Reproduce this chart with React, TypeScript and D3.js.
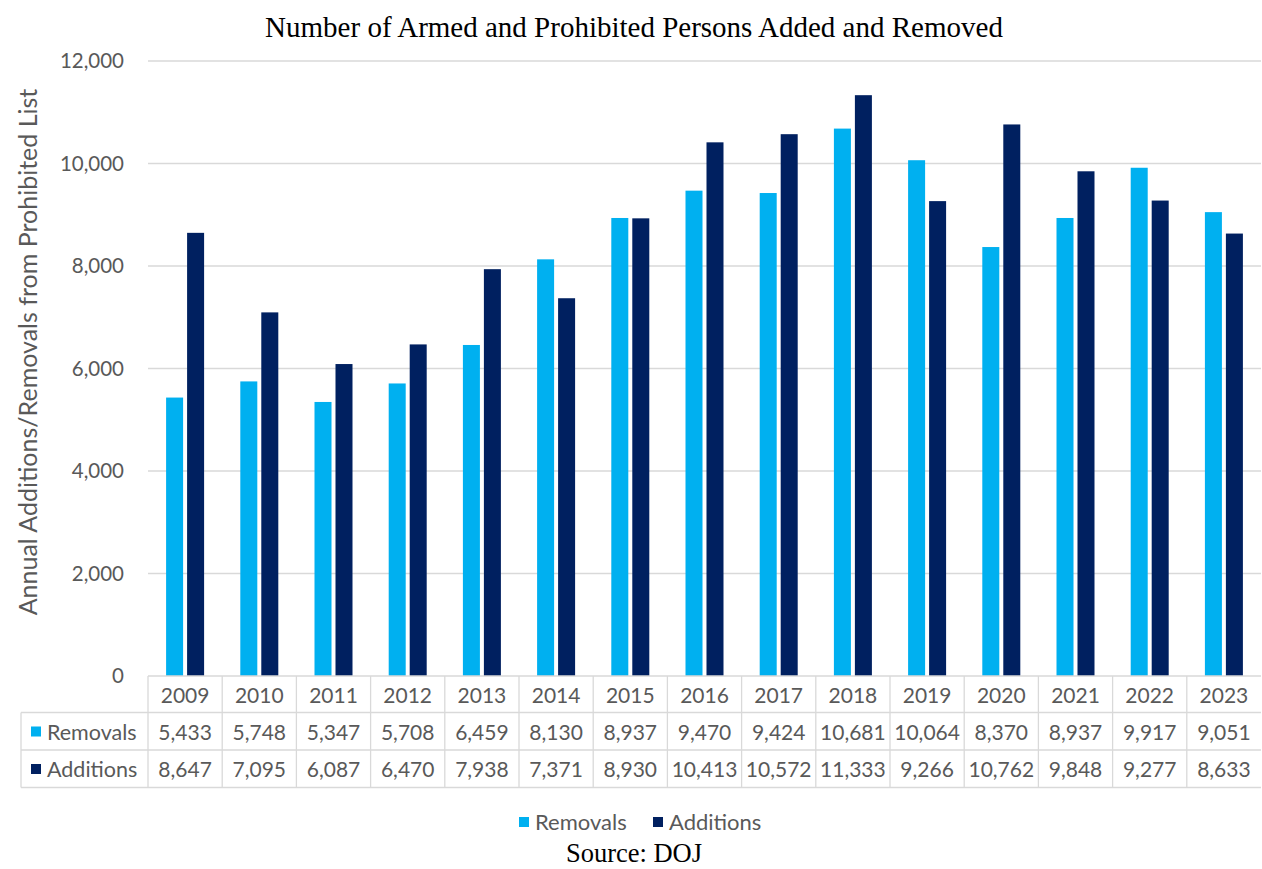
import React from "react";
import * as d3 from "d3";

const years = ["2009","2010","2011","2012","2013","2014","2015","2016","2017","2018","2019","2020","2021","2022","2023"];
const removals = [5433,5748,5347,5708,6459,8130,8937,9470,9424,10681,10064,8370,8937,9917,9051];
const additions = [8647,7095,6087,6470,7938,7371,8930,10413,10572,11333,9266,10762,9848,9277,8633];
const seriesNames = ["Removals","Additions"];
const seriesColors = ["#00B0F0","#002060"];
const yTicks = [0,2000,4000,6000,8000,10000,12000];

const W = 1262, H = 869;
const left = 148, right = 1261, top = 61, bottom = 676;
const tableLeft = 21;
const rowH = 37.5;
const textColor = "#595959";
const gridColor = "#d9d9d9";
const sans = "Lato, 'Open Sans', sans-serif";
const serif = "'Liberation Serif', 'Times New Roman', serif";

export default function App() {
  const x = d3.scaleBand<string>().domain(years).range([left, right]).paddingInner(0).paddingOuter(0);
  const y = d3.scaleLinear().domain([0, 12000]).range([bottom, top]);
  const step = x.bandwidth();
  const groupW = 38;
  const inner = d3.scaleBand<string>().domain(seriesNames).range([0, groupW]).paddingInner(0.19);
  const fmt = d3.format(",");
  const seriesValues = [removals, additions];
  const r1 = bottom + 36.5, r2 = r1 + rowH, r3 = r2 + rowH;

  return (
    <svg width={W} height={H} style={{ display: "block", position: "absolute", left: 0, top: 0 }}>
      <rect width={W} height={H} fill="#fff" />
      <text x={634} y={37} textAnchor="middle" fontFamily={serif} fontSize={29} fill="#000">
        Number of Armed and Prohibited Persons Added and Removed
      </text>
      {yTicks.map((t) => (
        <g key={t}>
          {t > 0 && <line x1={left} x2={right} y1={y(t)} y2={y(t)} stroke={gridColor} strokeWidth={1.3} />}
          <text x={124} y={y(t) + 7} textAnchor="end" fontFamily={sans} fontSize={20.5} fill={textColor}>
            {fmt(t)}
          </text>
        </g>
      ))}
      <text
        transform={`translate(37, 352) rotate(-90)`}
        textAnchor="middle"
        fontFamily={sans}
        fontSize={25}
        fill={textColor}
      >
        Annual Additions/Removals from Prohibited List
      </text>
      {years.map((yr, i) => {
        const gx = (x(yr) as number) + (step - groupW) / 2;
        return (
          <g key={yr}>
            {seriesNames.map((s, si) => {
              const v = seriesValues[si][i];
              return (
                <rect
                  key={s}
                  x={gx + (inner(s) as number)}
                  y={y(v)}
                  width={inner.bandwidth()}
                  height={bottom - y(v)}
                  fill={seriesColors[si]}
                />
              );
            })}
          </g>
        );
      })}
      {/* table */}
      <line x1={left} x2={right} y1={bottom} y2={bottom} stroke={gridColor} strokeWidth={1.3} />
      <line x1={tableLeft} x2={right} y1={r1} y2={r1} stroke={gridColor} strokeWidth={1.3} />
      <line x1={tableLeft} x2={right} y1={r2} y2={r2} stroke={gridColor} strokeWidth={1.3} />
      <line x1={tableLeft} x2={right} y1={r3} y2={r3} stroke={gridColor} strokeWidth={1.3} />
      <line x1={tableLeft} x2={tableLeft} y1={r1} y2={r3} stroke={gridColor} strokeWidth={1.3} />
      {years.map((yr) => (
        <line key={"v" + yr} x1={x(yr) as number} x2={x(yr) as number} y1={bottom} y2={r3} stroke={gridColor} strokeWidth={1.3} />
      ))}
      {years.map((yr, i) => {
        const cx = (x(yr) as number) + step / 2;
        return (
          <g key={"t" + yr} fontFamily={sans} fontSize={21} fill={textColor} textAnchor="middle">
            <text x={cx} y={bottom + 27}>{yr}</text>
            <text x={cx} y={r1 + 27}>{fmt(removals[i])}</text>
            <text x={cx} y={r2 + 27}>{fmt(additions[i])}</text>
          </g>
        );
      })}
      {seriesNames.map((s, si) => {
        const ry = si === 0 ? r1 : r2;
        return (
          <g key={"rl" + s}>
            <rect x={31} y={ry + 14} width={10} height={10} fill={seriesColors[si]} />
            <text x={47} y={ry + 27} fontFamily={sans} fontSize={21.5} fill={textColor}>{s}</text>
          </g>
        );
      })}
      {/* legend */}
      {seriesNames.map((s, si) => {
        const lx = si === 0 ? 519 : 653;
        return (
          <g key={"lg" + s}>
            <rect x={lx} y={817} width={10} height={10} fill={seriesColors[si]} />
            <text x={lx + 16} y={830} fontFamily={sans} fontSize={22} fill={textColor}>{s}</text>
          </g>
        );
      })}
      <text x={634} y={862} textAnchor="middle" fontFamily={serif} fontSize={26.5} fill="#000">
        Source: DOJ
      </text>
    </svg>
  );
}
